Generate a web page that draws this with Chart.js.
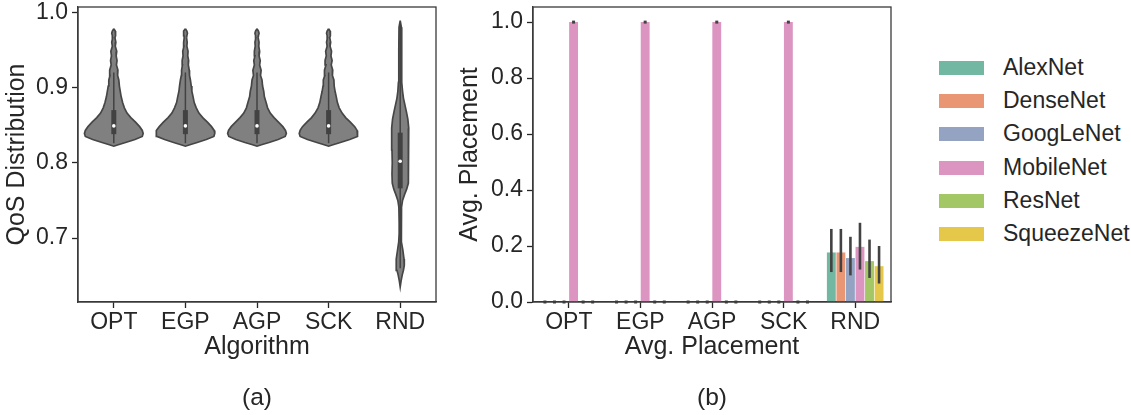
<!DOCTYPE html>
<html>
<head>
<meta charset="utf-8">
<script src="https://cdn.jsdelivr.net/npm/chart.js@4.4.0/dist/chart.umd.min.js"></script>
<style>
  body { margin: 0; background: #fff; font-family: 'Liberation Sans', Arial, sans-serif; color: #262626; }
  #page { position: relative; width: 1131px; height: 415px; overflow: hidden; }
  .panel { position: absolute; top: 0; width: 450px; height: 415px; }
  .caption { position: absolute; top: 382px; font-size: 24.5px; line-height: 30px; transform: translateX(-50%); }
  .legend-row { position: absolute; left: 939px; height: 22px; white-space: nowrap; }
  .legend-row .patch { position: absolute; left: 0; top: 4px; width: 45px; height: 14px; }
  .legend-row .label { position: absolute; left: 64px; top: -4px; font-size: 23px; line-height: 29px; }
</style>
</head>
<body>
<div id="page">
  <div class="panel" style="left:0"><canvas id="violinChart"></canvas></div>
  <div class="panel" style="left:450px"><canvas id="placementChart"></canvas></div>
  <div class="caption" style="left:257px">(a)</div>
  <div class="caption" style="left:712px">(b)</div>
  <div id="legend"></div>
</div>
<script>
const algorithms = ['OPT', 'EGP', 'AGP', 'SCK', 'RND'];

// (a) violin outlines: QoS level (top -> bottom) and relative half width (1 = widest)
const qosLevels = [0.978, 0.975, 0.972, 0.969, 0.966, 0.960, 0.955, 0.948, 0.942, 0.936, 0.930, 0.923, 0.916, 0.910,
  0.902, 0.895, 0.888, 0.880, 0.873, 0.866, 0.860, 0.854, 0.848, 0.843, 0.839, 0.835, 0.831, 0.827, 0.824, 0.822];
const optWidth = [0, 0.05, 0.07, 0.05, 0.04, 0.07, 0.05, 0.10, 0.08, 0.11, 0.09, 0.14, 0.13, 0.17,
  0.19, 0.22, 0.25, 0.30, 0.36, 0.45, 0.58, 0.74, 0.88, 0.97, 1.00, 0.97, 0.72, 0.40, 0.15, 0];
const egpWidth = [0, 0.05, 0.07, 0.05, 0.04, 0.06, 0.05, 0.09, 0.08, 0.11, 0.10, 0.13, 0.14, 0.17,
  0.20, 0.22, 0.26, 0.30, 0.37, 0.46, 0.59, 0.75, 0.89, 0.98, 1.00, 0.97, 0.71, 0.40, 0.15, 0];
const agpWidth = [0, 0.05, 0.07, 0.05, 0.04, 0.07, 0.06, 0.09, 0.07, 0.11, 0.09, 0.14, 0.12, 0.17,
  0.19, 0.23, 0.25, 0.31, 0.36, 0.45, 0.58, 0.73, 0.88, 0.97, 1.00, 0.96, 0.72, 0.41, 0.15, 0];
const sckWidth = [0, 0.05, 0.07, 0.05, 0.04, 0.07, 0.05, 0.10, 0.08, 0.12, 0.09, 0.14, 0.13, 0.18,
  0.19, 0.22, 0.26, 0.30, 0.36, 0.46, 0.58, 0.74, 0.89, 0.97, 1.00, 0.97, 0.72, 0.40, 0.15, 0];
const rndLevels = [0.989, 0.980, 0.950, 0.920, 0.907, 0.895, 0.886, 0.877, 0.868, 0.858, 0.846, 0.830, 0.817, 0.800,
  0.785, 0.773, 0.765, 0.758, 0.750, 0.741, 0.720, 0.706, 0.695, 0.684, 0.672, 0.664, 0.657, 0.651, 0.643, 0.635];
const rndWidth = [0, 0.04, 0.045, 0.05, 0.06, 0.08, 0.11, 0.16, 0.21, 0.26, 0.29, 0.29, 0.28, 0.27,
  0.28, 0.27, 0.22, 0.15, 0.08, 0.045, 0.035, 0.035, 0.05, 0.09, 0.13, 0.14, 0.11, 0.07, 0.03, 0];

// inner box of each violin
const whiskerLow = [0.826, 0.826, 0.826, 0.826, 0.660];
const q1 = [0.838, 0.838, 0.838, 0.838, 0.766];
const median = [0.849, 0.849, 0.849, 0.849, 0.802];
const q3 = [0.870, 0.870, 0.870, 0.870, 0.840];
const whiskerHigh = [0.920, 0.920, 0.920, 0.920, 0.985];

// (b) average placement per model, with confidence interval
const models = ['AlexNet', 'DenseNet', 'GoogLeNet', 'MobileNet', 'ResNet', 'SqueezeNet'];
const modelColors = ['#71b7a1', '#e99675', '#95a3c3', '#db95c0', '#a2c764', '#e5c849'];
const placement = [
  [0, 0, 0, 0, 0.177],
  [0, 0, 0, 0, 0.177],
  [0, 0, 0, 0, 0.157],
  [1, 1, 1, 1, 0.197],
  [0, 0, 0, 0, 0.146],
  [0, 0, 0, 0, 0.128],
];
const placementLow = [
  [0, 0, 0, 0, 0.107],
  [0, 0, 0, 0, 0.107],
  [0, 0, 0, 0, 0.095],
  [1, 1, 1, 1, 0.116],
  [0, 0, 0, 0, 0.086],
  [0, 0, 0, 0, 0.066],
];
const placementHigh = [
  [0, 0, 0, 0, 0.261],
  [0, 0, 0, 0, 0.261],
  [0, 0, 0, 0, 0.233],
  [1, 1, 1, 1, 0.283],
  [0, 0, 0, 0, 0.223],
  [0, 0, 0, 0, 0.200],
];

const INK = '#262626';
const FONT = "'Liberation Sans', Arial, sans-serif";
const HALF_WIDTH = 0.41;

Chart.defaults.font.family = FONT;
Chart.defaults.color = INK;
Chart.defaults.animation = false;

const frame = {
  id: 'frame',
  afterDraw(chart) {
    const { ctx, chartArea: a } = chart;
    ctx.save();
    ctx.strokeStyle = '#3a3a3a';
    ctx.lineWidth = 1.3;
    ctx.strokeRect(a.left, a.top, a.right - a.left, a.bottom - a.top);
    ctx.restore();
  }
};

const axisStyle = (extra) => Object.assign({
  border: { display: true, color: '#3a3a3a', width: 1.3 },
  grid: { drawOnChartArea: false, drawTicks: true, tickLength: 6, tickWidth: 1.3, color: INK, offset: false },
}, extra);

function violinPoints(pos, levels, widths) {
  const right = levels.map((y, k) => ({ x: pos + widths[k] * HALF_WIDTH, y }));
  const left = levels.map((y, k) => ({ x: pos - widths[k] * HALF_WIDTH, y })).reverse();
  return right.concat(left);
}

const violinShapes = [
  [qosLevels, optWidth], [qosLevels, egpWidth], [qosLevels, agpWidth], [qosLevels, sckWidth], [rndLevels, rndWidth]
];

const violinDatasets = [];
violinShapes.forEach(([levels, widths], i) => {
  violinDatasets.push({
    data: violinPoints(i, levels, widths),
    showLine: true, fill: 'shape', pointRadius: 0, tension: 0,
    backgroundColor: '#808080', borderColor: '#464646', borderWidth: 1.7, order: 3,
  });
  violinDatasets.push({
    data: [{ x: i, y: whiskerLow[i] }, { x: i, y: whiskerHigh[i] }],
    showLine: true, pointRadius: 0, borderColor: '#424242', borderWidth: 1.5, order: 2,
  });
  violinDatasets.push({
    data: [{ x: i, y: q1[i] }, { x: i, y: q3[i] }],
    showLine: true, pointRadius: 0, borderColor: '#424242', borderWidth: 5, borderCapStyle: 'butt', order: 1,
  });
});
violinDatasets.push({
  data: median.map((y, i) => ({ x: i, y })),
  showLine: false, pointRadius: 1.8, pointBackgroundColor: '#ffffff', pointBorderWidth: 0, order: 0,
});

new Chart(document.getElementById('violinChart'), {
  type: 'scatter',
  data: { datasets: violinDatasets },
  options: {
    responsive: true, maintainAspectRatio: false,
    layout: { padding: { left: 0, right: 14, top: 7, bottom: 53 } },
    plugins: { legend: { display: false }, tooltip: { enabled: false } },
    scales: {
      x: axisStyle({
        type: 'linear', min: -0.5, max: 4.5,
        afterBuildTicks: (s) => { s.ticks = algorithms.map((_, i) => ({ value: i })); },
        afterFit: (s) => { s.height = 60; s.paddingLeft = 0; s.paddingRight = 0; },
        ticks: { font: { size: 23 }, padding: 1, maxRotation: 0, autoSkip: false, callback: (v) => algorithms[v] },
        title: { display: true, text: 'Algorithm', font: { size: 25 }, padding: 0 },
      }),
      y: axisStyle({
        min: 0.615, max: 1.007,
        afterBuildTicks: (s) => { s.ticks = [0.7, 0.8, 0.9, 1.0].map((v) => ({ value: v })); },
        afterFit: (s) => { s.width = 78; s.paddingTop = 0; s.paddingBottom = 0; },
        ticks: { font: { size: 23 }, padding: 4, callback: (v) => v.toFixed(1) },
        title: { display: true, text: 'QoS Distribution', font: { size: 25 }, padding: { top: 2 } },
      }),
    },
  },
  plugins: [frame],
});

const errorBars = {
  id: 'errorBars',
  afterDatasetsDraw(chart) {
    const { ctx } = chart;
    const y = chart.scales.y;
    ctx.save();
    ctx.strokeStyle = '#424242';
    ctx.fillStyle = '#424242';
    ctx.lineWidth = 2.6;
    chart.data.datasets.forEach((ds, d) => {
      chart.getDatasetMeta(d).data.forEach((bar, i) => {
        const lo = y.getPixelForValue(placementLow[d][i]);
        const hi = y.getPixelForValue(placementHigh[d][i]);
        if (Math.abs(lo - hi) < 1) {
          ctx.fillRect(bar.x - 1.5, lo - 1.5, 3, 3);
        } else {
          ctx.beginPath();
          ctx.moveTo(bar.x, lo);
          ctx.lineTo(bar.x, hi);
          ctx.stroke();
        }
      });
    });
    ctx.restore();
  }
};

new Chart(document.getElementById('placementChart'), {
  type: 'bar',
  data: {
    labels: algorithms,
    datasets: models.map((name, d) => ({
      label: name,
      data: placement[d],
      backgroundColor: modelColors[d],
      borderWidth: 0,
      categoryPercentage: 0.8,
      barPercentage: 0.93,
    })),
  },
  options: {
    responsive: true, maintainAspectRatio: false,
    layout: { padding: { left: 0, right: 9, top: 7, bottom: 53 } },
    plugins: { legend: { display: false }, tooltip: { enabled: false } },
    scales: {
      x: axisStyle({
        afterFit: (s) => { s.height = 60; s.paddingLeft = 0; s.paddingRight = 0; },
        ticks: { font: { size: 23 }, padding: 1, maxRotation: 0, autoSkip: false },
        title: { display: true, text: 'Avg. Placement', font: { size: 25 }, padding: 0 },
      }),
      y: axisStyle({
        min: 0, max: 1.054,
        afterBuildTicks: (s) => { s.ticks = [0, 0.2, 0.4, 0.6, 0.8, 1.0].map((v) => ({ value: v })); },
        afterFit: (s) => { s.width = 83; s.paddingTop = 0; s.paddingBottom = 0; },
        ticks: { font: { size: 23 }, padding: 4, callback: (v) => v.toFixed(1) },
        title: { display: true, text: 'Avg. Placement', font: { size: 25 }, padding: { top: 5 } },
      }),
    },
  },
  plugins: [errorBars, frame],
});

// legend for panel (b)
const legendBox = document.getElementById('legend');
models.forEach((name, d) => {
  const row = document.createElement('div');
  row.className = 'legend-row';
  row.style.top = (57 + d * 33.2) + 'px';
  row.innerHTML = '<div class="patch" style="background:' + modelColors[d] + '"></div><div class="label">' + name + '</div>';
  legendBox.appendChild(row);
});
</script>
</body>
</html>
